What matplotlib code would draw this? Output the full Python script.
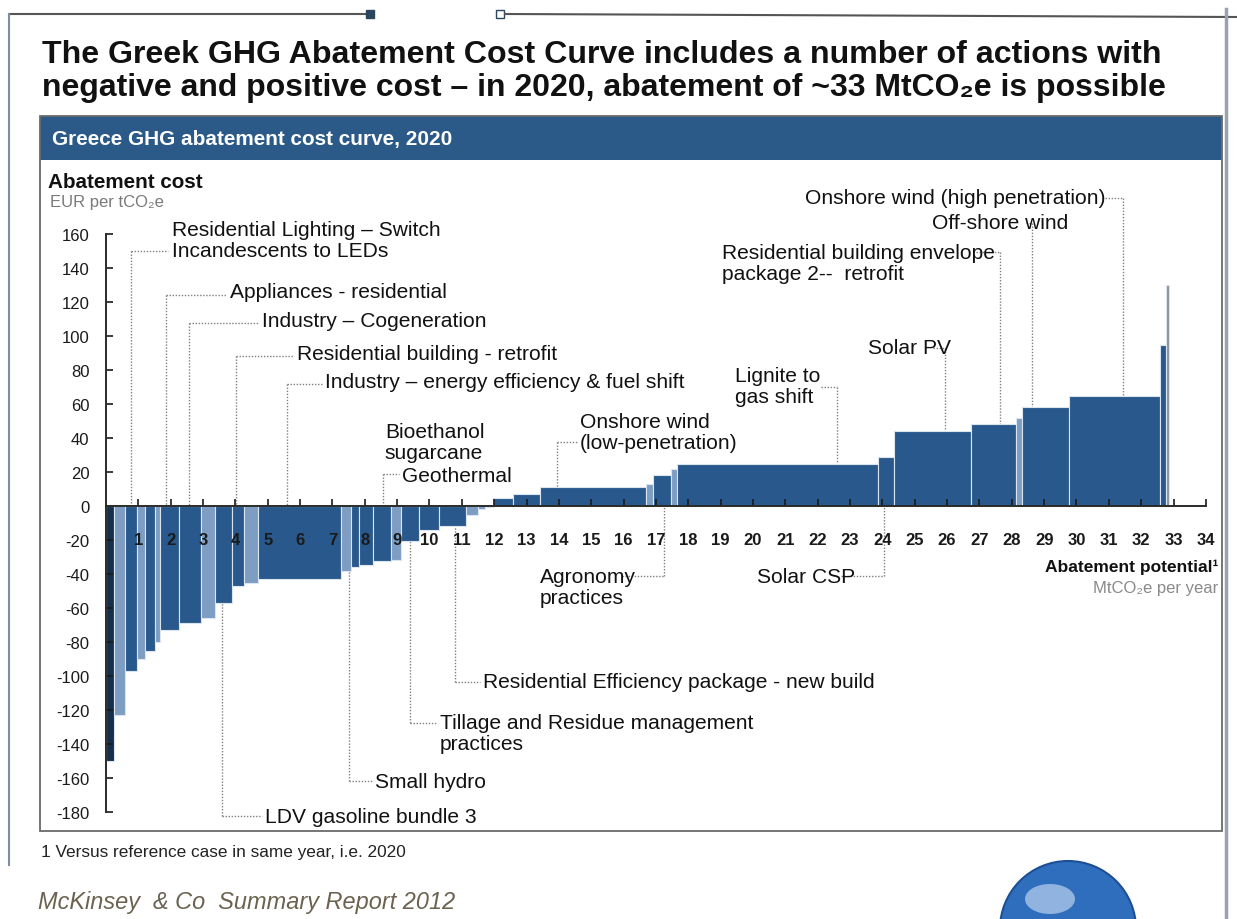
import matplotlib
matplotlib.use('Agg')
import matplotlib.pyplot as plt
import numpy as np
from matplotlib import font_manager
from matplotlib.patches import Rectangle, Ellipse
from matplotlib.lines import Line2D

# ------------------------------------------------------------------ data
widths = [0.24, 0.36, 0.35, 0.27, 0.28, 0.18, 0.57, 0.70, 0.43, 0.50,
          0.40, 0.42, 2.55, 0.31, 0.26, 0.43, 0.55, 0.32, 0.56, 0.62,
          0.82, 0.38, 0.22, 0.23, 0.63, 0.84, 3.28, 0.22, 0.53, 0.20,
          6.21, 0.50, 2.38, 1.40, 0.18, 1.46, 2.80, 0.20, 0.08]
costs = [-150, -123, -97, -90, -85, -80, -73, -69, -66, -57,
         -47, -45.5, -43, -38.5, -36, -34.5, -32.5, -32, -20.5, -14,
         -11.5, -5, -2, -0.8, 4.5, 7, 11, 12.7, 18.5, 21.5,
         24.5, 29, 44, 48, 52, 58, 64.5, 95, 130]
x_ticks = list(range(1, 35))
y_ticks = list(range(-180, 161, 20))

title_lines = ["The Greek GHG Abatement Cost Curve includes a number of actions with",
               "negative and positive cost \u2013 in 2020, abatement of ~33 MtCO\u2082e is possible"]
header_text = "Greece GHG abatement cost curve, 2020"
y_title = "Abatement cost"
y_unit = "EUR per tCO\u2082e"
x_title = "Abatement potential\u00b9"
x_unit = "MtCO\u2082e per year"
footnote = "1 Versus reference case in same year, i.e. 2020"
source = "McKinsey  & Co  Summary Report 2012"

label_texts = [
    ["Residential Lighting \u2013 Switch", "Incandescents to LEDs"],
    ["Appliances - residential"],
    ["Industry \u2013 Cogeneration"],
    ["Residential building - retrofit"],
    ["Industry \u2013 energy efficiency & fuel shift"],
    ["Bioethanol", "sugarcane"],
    ["Geothermal"],
    ["Onshore wind", "(low-penetration)"],
    ["Lignite to", "gas shift"],
    ["Residential building envelope", "package 2--  retrofit"],
    ["Solar PV"],
    ["Off-shore wind"],
    ["Onshore wind (high penetration)"],
    ["LDV gasoline bundle 3"],
    ["Small hydro"],
    ["Tillage and Residue management", "practices"],
    ["Residential Efficiency package - new build"],
    ["Agronomy", "practices"],
    ["Solar CSP"],
]
label_side = ['top'] * 13 + ['bottom'] * 6

# ------------------------------------------------------------------ layout (data units)
# text left x, first line y, leader y, horizontal leader x0, x1, vertical leader x
label_layout = [
    (2.04, 162.5, 150.1, 0.76, 1.92, 0.76),
    (3.83, 126.0, 124.0, 1.85, 3.70, 1.85),
    (4.81, 109.0, 107.6, 2.58, 4.72, 2.58),
    (5.90, 90.0, 88.4, 4.02, 5.78, 4.02),
    (6.77, 73.0, 71.8, 5.60, 6.68, 5.60),
    (8.62, 44.0, None, None, None, None),
    (9.15, 18.0, 18.8, 8.56, 9.05, 8.56),
    (14.65, 50.0, 37.6, 13.93, 14.58, 13.93),
    (19.44, 77.0, 70.0, 22.10, 22.60, 22.60),
    (19.04, 149.4, 149.4, 26.90, 27.63, 27.63),
    (23.55, 93.0, 93.0, 25.55, 25.94, 25.94),
    (25.53, 166.5, 166.5, 28.45, 28.62, 28.62),
    (21.61, 181.2, 181.2, 30.80, 31.44, 31.44),
    (4.92, -182.4, -182.4, 3.59, 4.82, 3.59),
    (8.32, -161.8, -161.8, 7.50, 8.22, 7.50),
    (10.32, -127.6, -127.6, 9.40, 10.20, 9.40),
    (11.65, -103.5, -103.5, 10.79, 11.55, 10.79),
    (13.42, -41.2, -41.2, 15.95, 17.24, 17.24),
    (20.12, -41.2, -41.2, 22.72, 24.05, 24.05),
]
line_gap = 12.4  # data units between text lines

bar_shade = ['n', 'l', 'd', 'l', 'd', 'l', 'd', 'd', 'l', 'd',
             'd', 'l', 'd', 'l', 'd', 'd', 'd', 'l', 'd', 'd',
             'd', 'l', 'l', 'l', 'd', 'd', 'd', 'l', 'd', 'l',
             'd', 'd', 'd', 'd', 'l', 'd', 'd', 'd', 'g']
shade_color = {'d': '#29598c', 'l': '#7d9dc3', 'n': '#15304d', 'g': '#8d939a'}

# ------------------------------------------------------------------ fonts
avail = {f.name for f in font_manager.fontManager.ttflist}
narrow = 'Liberation Sans Narrow' if 'Liberation Sans Narrow' in avail else 'Liberation Sans'
FAM = ['Liberation Sans', 'DejaVu Sans']
NFAM = [narrow, 'Liberation Sans', 'DejaVu Sans']
plt.rcParams['font.family'] = FAM

W, H = 1237, 920
fig = plt.figure(figsize=(W / 100, H / 100), dpi=100)
fig.patch.set_facecolor('white')


def P(px, py):
    return px / W, 1 - py / H


# pixel mapping of the chart: x=0 at 106 px, 32.35 px/unit; y=0 at 507 px, 1.70 px/unit
x0px, sx, y0px, sy = 106, 32.35, 507, 1.70
xlim = (-1.0, 34.4)
ylim = (-192, 200)
left_px = x0px + xlim[0] * sx
right_px = x0px + xlim[1] * sx
top_px = y0px - ylim[1] * sy
bot_px = y0px - ylim[0] * sy
ax = fig.add_axes([left_px / W, 1 - bot_px / H, (right_px - left_px) / W, (bot_px - top_px) / H])
ax.set_xlim(*xlim)
ax.set_ylim(*ylim)
ax.patch.set_alpha(0)

# ------------------------------------------------------------------ frame + header band
fig.add_artist(Rectangle(P(40, 161), 1182 / W, 44 / H, transform=fig.transFigure,
                         facecolor='#2c5a88', edgecolor='none', zorder=0))
fig.add_artist(Rectangle(P(40, 832), 1182 / W, 715 / H, transform=fig.transFigure,
                         facecolor='none', edgecolor='#6a6a6a', lw=1.3, zorder=0))
# page decorations
fig.add_artist(Line2D([9 / W, 366 / W], [1 - 15 / H, 1 - 15 / H], transform=fig.transFigure,
                      color='#555555', lw=1.5))
fig.add_artist(Line2D([370 / W], [1 - 15 / H], transform=fig.transFigure, marker='s',
                      markersize=6, color='#2a4560', lw=0))
fig.add_artist(Line2D([500 / W], [1 - 15 / H], transform=fig.transFigure, marker='s',
                      markersize=6, markerfacecolor='white', markeredgecolor='#2a4560', lw=0))
fig.add_artist(Line2D([505 / W, 1237 / W], [1 - 15 / H, 1 - 18 / H], transform=fig.transFigure,
                      color='#555555', lw=1.5))
fig.add_artist(Line2D([9 / W, 9 / W], [1 - 15 / H, 1 - 866 / H], transform=fig.transFigure,
                      color='#7d8ea0', lw=1.5))
fig.add_artist(Line2D([1226 / W, 1226 / W], [1 - 10 / H, 0], transform=fig.transFigure,
                      color='#9aa3ad', lw=2.5))
# globe
fig.add_artist(Ellipse(P(1068, 930), 136 / W, 136 / H, transform=fig.transFigure,
                       facecolor='#2f6dbd', edgecolor='#1d4f95', lw=1.5, zorder=1))
fig.add_artist(Ellipse(P(1050, 900), 50 / W, 30 / H, transform=fig.transFigure,
                       facecolor='#a9c6e8', edgecolor='none', alpha=0.8, zorder=1))

# ------------------------------------------------------------------ bars
w = np.array(widths, dtype=float)
c = np.array(costs, dtype=float)
ends = np.cumsum(w)
lefts = ends - w
colors = [shade_color[s] for s in bar_shade]
ax.bar(lefts, c, width=w, align='edge', color=colors, edgecolor='#dbe5f0',
       linewidth=0.8, zorder=1)

# ------------------------------------------------------------------ axes styling
for s in ['top', 'right']:
    ax.spines[s].set_visible(False)
ax.spines['left'].set_position(('data', 0))
ax.spines['left'].set_bounds(-180, 160)
ax.spines['bottom'].set_position(('data', 0))
ax.spines['bottom'].set_bounds(0, 34)
for s in ['left', 'bottom']:
    ax.spines[s].set_linewidth(1.4)
    ax.spines[s].set_color('#2a2a2a')
    ax.spines[s].set_zorder(3)
ax.set_xticks(x_ticks)
ax.set_yticks(y_ticks)
ax.set_xticklabels([str(t) for t in x_ticks])
ax.set_yticklabels([str(t) for t in y_ticks])
ax.tick_params(axis='y', direction='in', length=5, width=1.2, pad=12, labelsize=12,
               colors='#1a1a1a')
ax.tick_params(axis='x', direction='in', length=5, width=1.2, pad=19, labelsize=12,
               colors='#1a1a1a')
for lbl in ax.get_xticklabels():
    lbl.set_fontweight('bold')
ax.set_axisbelow(False)

# ------------------------------------------------------------------ labels and leaders
lead_kw = dict(color='#808080', lw=1.0, linestyle=(0, (1, 1.2)), zorder=0.5)
ann_texts = []
for lines, side, lay in zip(label_texts, label_side, label_layout):
    tx, ty, ly, hx0, hx1, lx = lay
    for k, s in enumerate(lines):
        t = ax.text(tx, ty - k * line_gap, s, ha='left', va='center', fontsize=12,
                    color='#111111', zorder=4)
        ann_texts.append(t)
    if lx is None:
        continue
    idx = int(np.clip(np.searchsorted(ends, lx), 0, len(c) - 1))
    yend = max(c[idx], 0) if side == 'top' else min(c[idx], 0)
    ax.plot([hx0, hx1], [ly, ly], **lead_kw)
    ax.plot([lx, lx], [ly, yend], **lead_kw)

# ------------------------------------------------------------------ texts outside
t1 = fig.text(*P(42, 55), title_lines[0], ha='left', va='center', fontsize=22,
              fontweight='bold', family=NFAM, color='#111111')
t2 = fig.text(*P(42, 88), title_lines[1], ha='left', va='center', fontsize=22,
              fontweight='bold', family=NFAM, color='#111111')
th = fig.text(*P(52, 140), header_text, ha='left', va='center', fontsize=12,
              fontweight='bold', color='white')
tyt = fig.text(*P(48, 182), y_title, ha='left', va='center', fontsize=12.5,
               fontweight='bold', color='#111111')
tyu = fig.text(*P(50, 203), y_unit, ha='left', va='center', fontsize=12,
               color='#7a7a7a')
fig.text(*P(1218, 567), x_title, ha='right', va='center', fontsize=12.5,
         fontweight='bold', color='#111111')
fig.text(*P(1218, 589), x_unit, ha='right', va='center', fontsize=12,
         color='#8a8a8a')
tf = fig.text(*P(41, 853), footnote, ha='left', va='center', fontsize=9,
              color='#222222')
tsrc = fig.text(*P(38, 903), source, ha='left', va='center', fontsize=15,
                style='italic', family=NFAM, color='#6b6350')

# fit a few widths to the reference
fig.canvas.draw()
r = fig.canvas.get_renderer()


def fit(t, target):
    wd = t.get_window_extent(r).width
    t.set_fontsize(t.get_fontsize() * target / wd)


fit(t1, 1121)
fit(t2, 1123)
fit(th, 400)
fit(tyt, 155)
fit(tf, 366)
fit(tsrc, 417)
# annotation size from 'Appliances - residential' (217 px wide)
ref = ann_texts[2]
scale = 217 / ref.get_window_extent(r).width
for t in ann_texts:
    t.set_fontsize(t.get_fontsize() * scale)

fig.savefig('out.png', dpi=100, facecolor='white')
